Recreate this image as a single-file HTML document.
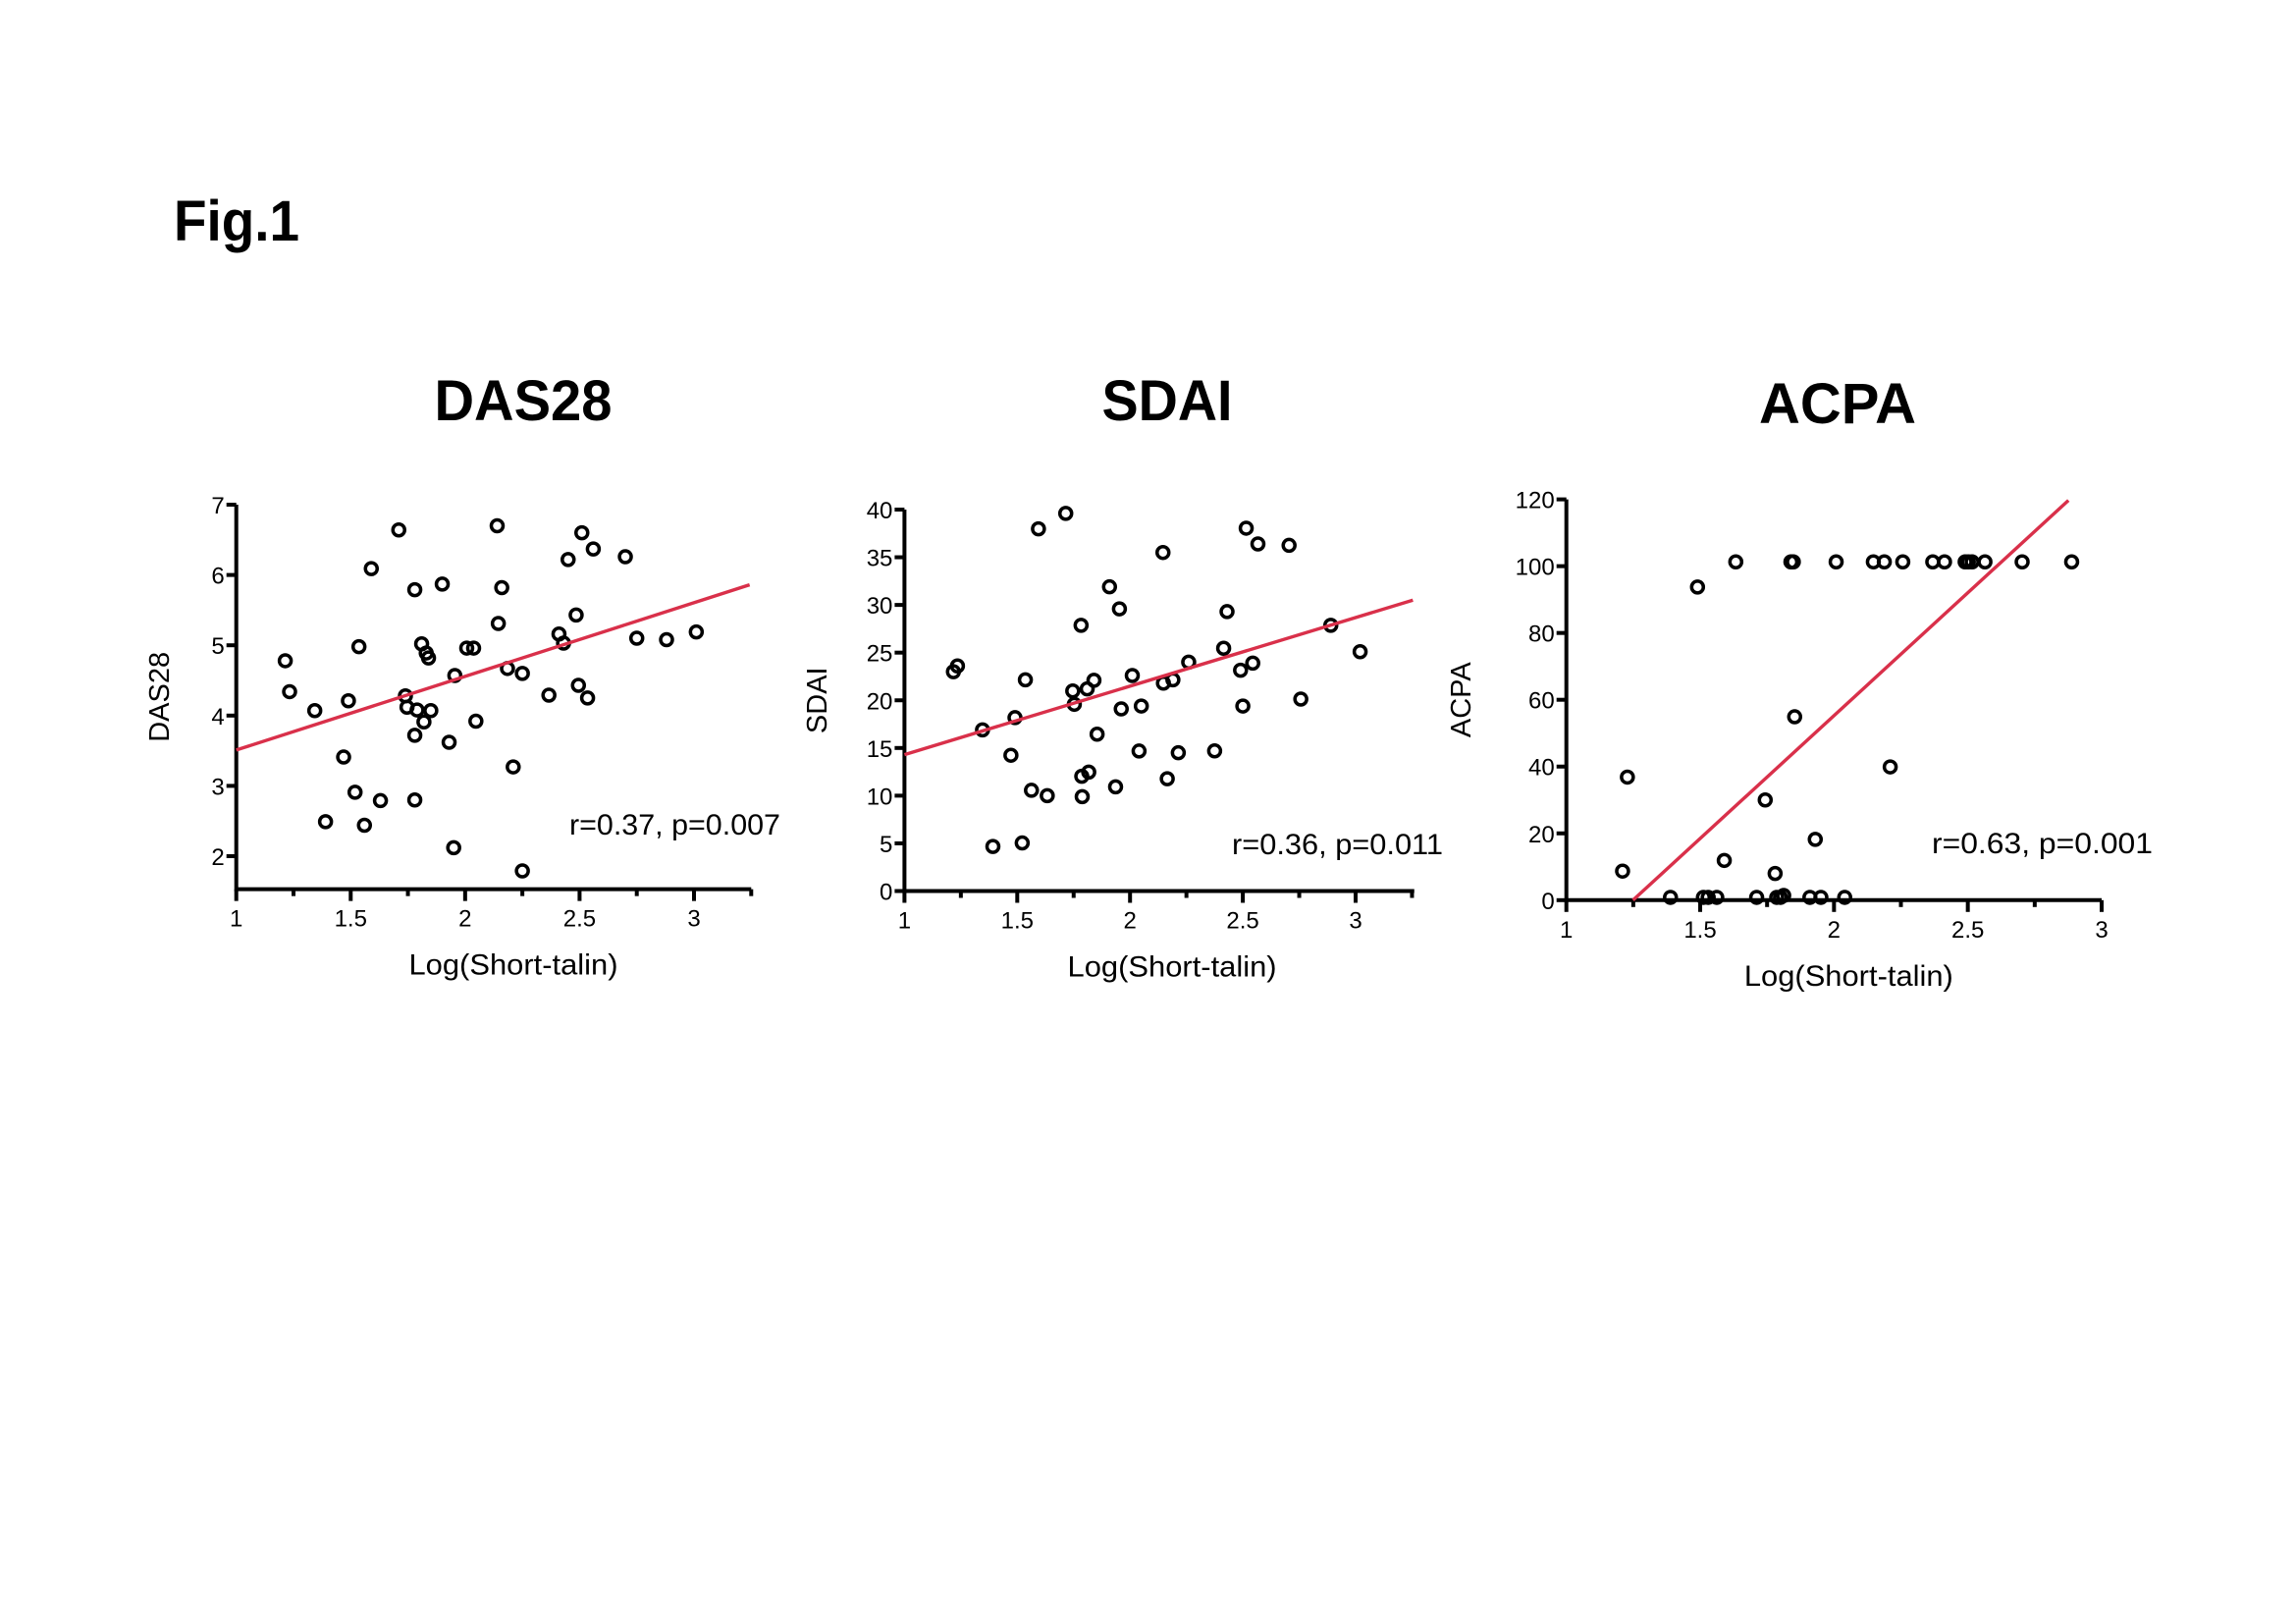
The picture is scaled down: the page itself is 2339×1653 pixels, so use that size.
<!DOCTYPE html>
<html><head><meta charset="utf-8"><style>
html,body{margin:0;padding:0;background:#fff;}
svg{display:block;font-family:"Liberation Sans",Arial,sans-serif;}
</style></head><body>
<svg id="fig" width="2339" height="1653" viewBox="0 0 2339 1653" xmlns="http://www.w3.org/2000/svg">
<rect width="2339" height="1653" fill="#fff"/>
<text x="177" y="245" font-size="58" font-weight="bold" textLength="128" lengthAdjust="spacingAndGlyphs">Fig.1</text>
</svg>
<script>
// ---- data ----
const das28X = [1.214,1.233,1.343,1.39,1.469,1.49,1.519,1.536,1.56,1.59,1.63,1.71,1.739,1.746,1.78,1.78,1.78,1.79,1.81,1.82,1.83,1.84,1.85,1.90,1.93,1.95,1.955,2.007,2.037,2.047,2.14,2.145,2.16,2.185,2.21,2.25,2.25,2.366,2.41,2.43,2.45,2.485,2.495,2.51,2.535,2.56,2.70,2.75,2.88,3.01];
const das28Y = [4.78,4.34,4.07,2.49,3.41,4.21,2.91,4.98,2.44,6.09,2.79,6.64,4.28,4.12,5.79,3.72,2.80,4.08,5.02,3.91,4.89,4.82,4.07,5.87,3.62,2.12,4.57,4.96,4.96,3.92,6.70,5.31,5.82,4.67,3.27,4.60,1.79,4.29,5.16,5.03,6.22,5.43,4.43,6.60,4.25,6.37,6.26,5.10,5.08,5.19];
const das28Fit = [[1,3.51],[3.243,5.86]];
const sdaiX = [1.217,1.235,1.346,1.392,1.472,1.49,1.522,1.536,1.563,1.594,1.633,1.715,1.746,1.753,1.783,1.786,1.788,1.81,1.817,1.84,1.854,1.909,1.936,1.953,1.961,2.01,2.04,2.05,2.146,2.148,2.165,2.19,2.214,2.26,2.375,2.415,2.43,2.49,2.5,2.515,2.544,2.567,2.705,2.757,2.89,3.02];
const sdaiY = [23.0,23.6,16.9,4.67,14.24,18.18,5.04,22.15,10.56,37.98,10.0,39.6,20.98,19.58,27.86,12.03,9.9,21.2,12.47,22.1,16.45,31.9,10.93,29.59,19.1,22.6,14.68,19.4,35.5,21.8,11.78,22.15,14.5,24.0,14.7,25.46,29.3,23.15,19.4,38.05,23.9,36.4,36.25,20.13,27.86,25.1];
const sdaiFit = [[1,14.3],[3.254,30.5]];
const acpaX = [1.21,1.228,1.389,1.49,1.512,1.53,1.562,1.59,1.633,1.711,1.743,1.78,1.786,1.80,1.812,1.839,1.848,1.853,1.91,1.93,1.951,2.008,2.04,2.147,2.188,2.21,2.257,2.369,2.413,2.49,2.502,2.516,2.564,2.703,2.888];
const acpaY = [8.7,36.85,0.84,93.75,0.84,0.84,0.84,11.9,101.3,0.84,30.0,8.0,0.84,0.84,1.4,101.3,101.3,54.9,0.84,18.2,0.84,101.3,0.84,101.3,101.3,39.9,101.3,101.3,101.3,101.3,101.3,101.3,101.3,101.3,101.3];
const acpaFit = [[1.249,0],[2.876,119.7]];
const xTickLabels = ["1","1.5","2","2.5","3"];
const das28YTicks = ["2","3","4","5","6","7"];
const sdaiYTicks = ["0","5","10","15","20","25","30","35","40"];
const acpaYTicks = ["0","20","40","60","80","100","120"];

const NS="http://www.w3.org/2000/svg";
const svg=document.getElementById('fig');
function mk(tag,attrs,parent){const e=document.createElementNS(NS,tag);for(const k in attrs)e.setAttribute(k,attrs[k]);(parent||svg).appendChild(e);return e;}

const panels=[
 {key:'das28',title:'DAS28',tx:533,ty:428,tw:181,yl:'DAS28',ylx:172,xoff:20,xs:[1,240.7,3,707],xmax:3.25,ys:[2,872,7,514],ymin:1.53,ymax:7,yt:das28YTicks,
  X:das28X,Y:das28Y,fit:das28Fit,stat:'r=0.37, p=0.007',sx:580,sy:850,sw:215},
 {key:'sdai',title:'SDAI',tx:1189,ty:428,tw:133,yl:'SDAI',ylx:842,xoff:13,xs:[1,921.4,3,1381],xmax:3.26,ys:[0,907.5,40,519],ymin:0,ymax:40,yt:sdaiYTicks,
  X:sdaiX,Y:sdaiY,fit:sdaiFit,stat:'r=0.36, p=0.011',sx:1255,sy:870,sw:215},
 {key:'acpa',title:'ACPA',tx:1872,ty:431,tw:160,yl:'ACPA',ylx:1498,xoff:15,xs:[1,1595.7,3,2141],xmax:3,ys:[0,916.8,120,508.6],ymin:0,ymax:120,yt:acpaYTicks,
  X:acpaX,Y:acpaY,fit:acpaFit,stat:'r=0.63, p=0.001',sx:1968,sy:869,sw:225}
];

panels.forEach(p=>{
 const g=mk('g',{});
 
 
 const sx=v=>p.xs[1]+(v-p.xs[0])*(p.xs[3]-p.xs[1])/(p.xs[2]-p.xs[0]);
 const sy=v=>p.ys[1]+(v-p.ys[0])*(p.ys[3]-p.ys[1])/(p.ys[2]-p.ys[0]);
 const x0=sx(1), yb=sy(p.ymin);
 const t=mk('text',{x:p.tx,y:p.ty,'font-size':58,'font-weight':'bold','text-anchor':'middle',textLength:p.tw,lengthAdjust:'spacingAndGlyphs'},g);
 t.textContent=p.title;
 
 
 const ax=mk('path',{d:`M${x0},${sy(p.ymax)}V${yb}H${sx(p.xmax)}`,stroke:'#000','stroke-width':4,fill:'none'},g);
 
 
 for(let v=1;v<=p.xmax+1e-6;v+=0.25){
  const major=Math.abs(v*2-Math.round(v*2))<1e-6;
  const tk=mk('line',{x1:sx(v),x2:sx(v),y1:yb,y2:yb+(major?12:7),stroke:'#000','stroke-width':4},g);
  
  
 }
 xTickLabels.forEach(s=>{
  const v=parseFloat(s); if(v>p.xmax+1e-6)return;
  const l=mk('text',{x:sx(v),y:yb+38,'font-size':24,'text-anchor':'middle'},g);
  l.textContent=s;
  
  
 });
 p.yt.forEach(s=>{
  const v=parseFloat(s);
  const tk=mk('line',{x1:x0-10,x2:x0,y1:sy(v),y2:sy(v),stroke:'#000','stroke-width':4},g);
  
  
  const l=mk('text',{x:x0-12,y:sy(v)+9,'font-size':24,'text-anchor':'end'},g);
  l.textContent=s;
  
  
 });
 const ym=(sy(p.ymin)+sy(p.ymax))/2;
 const ylab=mk('text',{x:p.ylx,y:ym,'font-size':29,'text-anchor':'middle',transform:`rotate(-90 ${p.ylx} ${ym})`},g);
 ylab.textContent=p.yl;
 
 
 const xl=mk('text',{x:(x0+sx(p.xmax))/2+p.xoff,y:yb+87,'font-size':30,'text-anchor':'middle',textLength:213,lengthAdjust:'spacingAndGlyphs'},g);
 xl.textContent='Log(Short-talin)';
 
 
 p.X.forEach((xv,i)=>{
  const c=mk('circle',{cx:sx(xv),cy:sy(p.Y[i]),r:6,fill:'none',stroke:'#000','stroke-width':3.5},g);
  
  
 });
 const fl=mk('line',{x1:sx(p.fit[0][0]),y1:sy(p.fit[0][1]),x2:sx(p.fit[1][0]),y2:sy(p.fit[1][1]),stroke:'#d9304a','stroke-width':3.4},g);
 
 
 const st=mk('text',{x:p.sx,y:p.sy,'font-size':30,textLength:p.sw,lengthAdjust:'spacingAndGlyphs'},g);
 st.textContent=p.stat;
 
 
});
</script>
</body></html>
